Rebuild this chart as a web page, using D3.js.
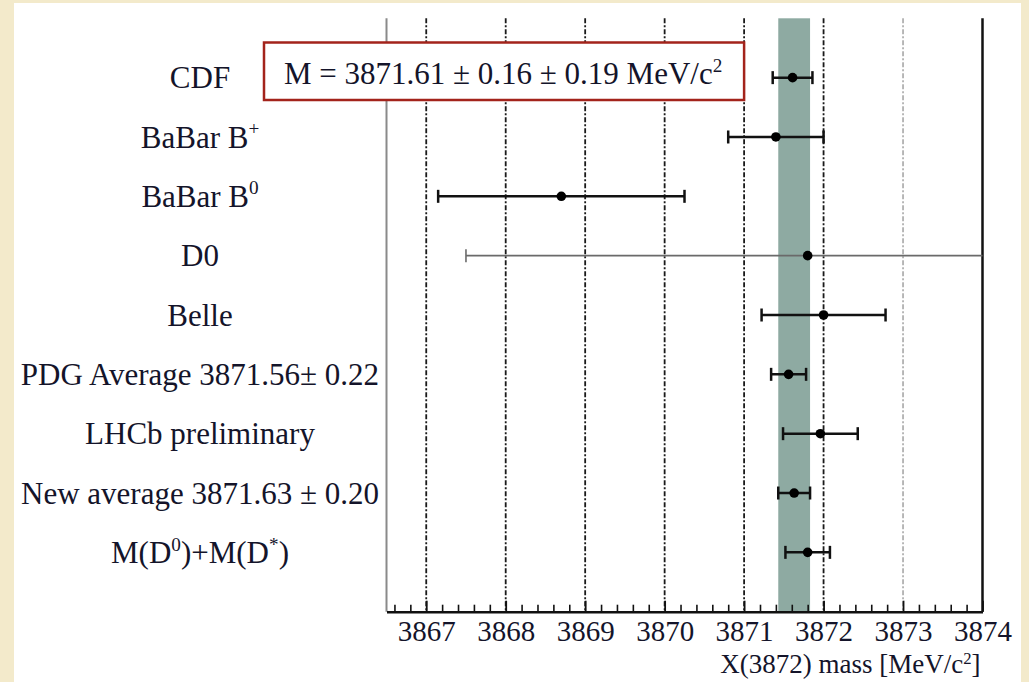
<!DOCTYPE html>
<html>
<head>
<meta charset="utf-8">
<script src="https://cdn.jsdelivr.net/npm/d3@7"></script>
<style>
  html, body { margin: 0; padding: 0; background: #f3eacb; }
  svg { display: block; }
  text { font-family: 'Liberation Serif', 'Times New Roman', serif; fill: #14142a; }
</style>
</head>
<body>
<svg id="chart" width="1029" height="682"></svg>
<script>
// measurements, top row first
const labels = [
  'CDF',
  'BaBar B^{+}',
  'BaBar B^{0}',
  'D0',
  'Belle',
  'PDG Average 3871.56\u00b1 0.22',
  'LHCb preliminary',
  'New average 3871.63 \u00b1 0.20',
  'M(D^{0})+M(D^{*})'
]
const masses = [3871.61, 3871.40, 3868.70, 3871.80, 3872.00, 3871.56, 3871.96, 3871.63, 3871.80]
const errors = [0.25, 0.60, 1.55, 4.30, 0.78, 0.22, 0.47, 0.20, 0.28]
const thinRows = ['D0']

// shaded band = new average
const bandCenter = 3871.63
const bandHalf = 0.20

const majorTicks = [3867, 3868, 3869, 3870, 3871, 3872, 3873, 3874]
const gridValues = [3867, 3868, 3869, 3870, 3871, 3872, 3873]
const fadedGrid = [3873]

const boxText = 'M = 3871.61 \u00b1 0.16 \u00b1 0.19 MeV/c^{2}'
const xTitle = 'X(3872) mass [MeV/c^{2}]'

const W = 1029
const H = 682
const FRAME_LEFT = 386.5
const FRAME_RIGHT = 982.5
const FRAME_TOP = 18.3
const FRAME_BOTTOM = 611.7

// write "a^{b}c" as text with superscript tspans
function richText (sel, str, size, lift) {
  var parts = str.split(/\^\{([^}]*)\}/)
  var up = size * (lift || 0.4)
  var shifted = false
  parts.forEach(function (p, i) {
    if (p === '') return
    var t = sel.append('tspan').text(p)
    if (i % 2 === 1) {
      t.attr('dy', -up).attr('font-size', size * 0.62)
      shifted = true
    } else if (shifted) {
      t.attr('dy', up)
      shifted = false
    }
  })
}

var svg = d3.select('#chart')

svg.append('rect')
  .attr('width', W).attr('height', H)
  .attr('fill', '#f3eacb')

svg.append('rect')
  .attr('x', 14).attr('y', 3)
  .attr('width', 1007).attr('height', H - 3)
  .attr('fill', '#ffffff')

var x = d3.scaleLinear().domain([3866.5, 3874]).range([FRAME_LEFT, FRAME_RIGHT])
var y = d3.scaleLinear().domain([-1, labels.length]).range([FRAME_TOP, FRAME_BOTTOM])

// grid lines
svg.append('g').selectAll('line')
  .data(gridValues)
  .enter().append('line')
  .attr('x1', function (d) { return x(d) })
  .attr('x2', function (d) { return x(d) })
  .attr('y1', FRAME_TOP)
  .attr('y2', FRAME_BOTTOM)
  .attr('stroke', function (d) { return fadedGrid.indexOf(d) >= 0 ? '#9a9a9a' : '#1a1a1a' })
  .attr('stroke-width', function (d) { return fadedGrid.indexOf(d) >= 0 ? 1.4 : 1.8 })
  .attr('stroke-dasharray', '5,2,2,2')

// band
svg.append('rect')
  .attr('x', x(bandCenter - bandHalf))
  .attr('width', x(bandCenter + bandHalf) - x(bandCenter - bandHalf))
  .attr('y', FRAME_TOP)
  .attr('height', FRAME_BOTTOM - FRAME_TOP)
  .attr('fill', '#8eaaa2')

// frame
svg.append('line')
  .attr('x1', FRAME_LEFT).attr('x2', FRAME_LEFT)
  .attr('y1', FRAME_TOP).attr('y2', FRAME_BOTTOM)
  .attr('stroke', '#8a8a8a').attr('stroke-width', 2)
svg.append('line')
  .attr('x1', FRAME_RIGHT).attr('x2', FRAME_RIGHT)
  .attr('y1', FRAME_TOP).attr('y2', FRAME_BOTTOM)
  .attr('stroke', '#111').attr('stroke-width', 2.5)

// bottom axis, ticks inward like ROOT
var minorTicks = d3.range(3866.6, 3874, 0.2).filter(function (v) {
  return Math.abs(v - Math.round(v)) > 0.05
})

var minorAxis = d3.axisBottom(x)
  .tickValues(minorTicks)
  .tickSizeInner(-7)
  .tickSizeOuter(0)
  .tickFormat('')

var majorAxis = d3.axisBottom(x)
  .tickValues(majorTicks)
  .tickSizeInner(-11)
  .tickSizeOuter(0)
  .tickPadding(9)
  .tickFormat(d3.format('d'))

var gMinor = svg.append('g')
  .attr('transform', 'translate(0,' + FRAME_BOTTOM + ')')
  .call(minorAxis)
gMinor.select('.domain').remove()
gMinor.selectAll('line').attr('stroke', '#111').attr('stroke-width', 1.6)

var gMajor = svg.append('g')
  .attr('transform', 'translate(0,' + FRAME_BOTTOM + ')')
  .call(majorAxis)
gMajor.select('.domain').attr('stroke', '#111').attr('stroke-width', 2.5)
gMajor.selectAll('line').attr('stroke', '#111').attr('stroke-width', 1.8)
gMajor.selectAll('text')
  .attr('font-family', "'Liberation Serif', 'Times New Roman', serif")
  .attr('font-size', 29)
  .attr('fill', '#14142a')

var title = svg.append('text')
  .attr('x', FRAME_RIGHT - 2)
  .attr('y', 673)
  .attr('text-anchor', 'end')
  .attr('font-size', 27)
richText(title, xTitle, 27, 0.32)

// row labels
svg.append('g').selectAll('text')
  .data(labels)
  .enter().append('text')
  .attr('x', 200)
  .attr('y', function (d, i) { return y(i) })
  .attr('dy', '0.34em')
  .attr('text-anchor', 'middle')
  .attr('font-size', 31)
  .each(function (d) { richText(d3.select(this), d, 31) })

// error bars
var rows = svg.append('g').selectAll('g')
  .data(labels)
  .enter().append('g')

var lo = function (i) { return Math.max(masses[i] - errors[i], x.domain()[0]) }
var hi = function (i) { return Math.min(masses[i] + errors[i], x.domain()[1]) }
var thin = function (d) { return thinRows.indexOf(d) >= 0 }

rows.append('line')
  .attr('x1', function (d, i) { return x(lo(i)) })
  .attr('x2', function (d, i) { return x(hi(i)) })
  .attr('y1', function (d, i) { return y(i) })
  .attr('y2', function (d, i) { return y(i) })
  .attr('stroke', function (d) { return thin(d) ? '#6a6a6a' : '#111' })
  .attr('stroke-width', function (d) { return thin(d) ? 1.6 : 2.5 })

rows.each(function (d, i) {
  var g = d3.select(this)
  var ends = []
  if (masses[i] - errors[i] >= x.domain()[0]) ends.push(masses[i] - errors[i])
  if (masses[i] + errors[i] <= x.domain()[1]) ends.push(masses[i] + errors[i])
  ends.forEach(function (v) {
    g.append('line')
      .attr('x1', x(v)).attr('x2', x(v))
      .attr('y1', y(i) - 6.5).attr('y2', y(i) + 6.5)
      .attr('stroke', thin(d) ? '#6a6a6a' : '#111')
      .attr('stroke-width', thin(d) ? 1.6 : 2.5)
  })
})

rows.append('circle')
  .attr('cx', function (d, i) { return x(masses[i]) })
  .attr('cy', function (d, i) { return y(i) })
  .attr('r', 4.8)
  .attr('fill', '#000')

// result box
var box = svg.append('g')
box.append('rect')
  .attr('x', 264).attr('y', 42.5)
  .attr('width', x(3871) - 264).attr('height', 57.5)
  .attr('fill', '#fff')
  .attr('stroke', '#a3231b')
  .attr('stroke-width', 2.5)
var bt = box.append('text')
  .attr('x', 284)
  .attr('y', 84)
  .attr('font-size', 31)
  .attr('fill', '#111')
richText(bt, boxText, 31)
</script>
</body>
</html>
